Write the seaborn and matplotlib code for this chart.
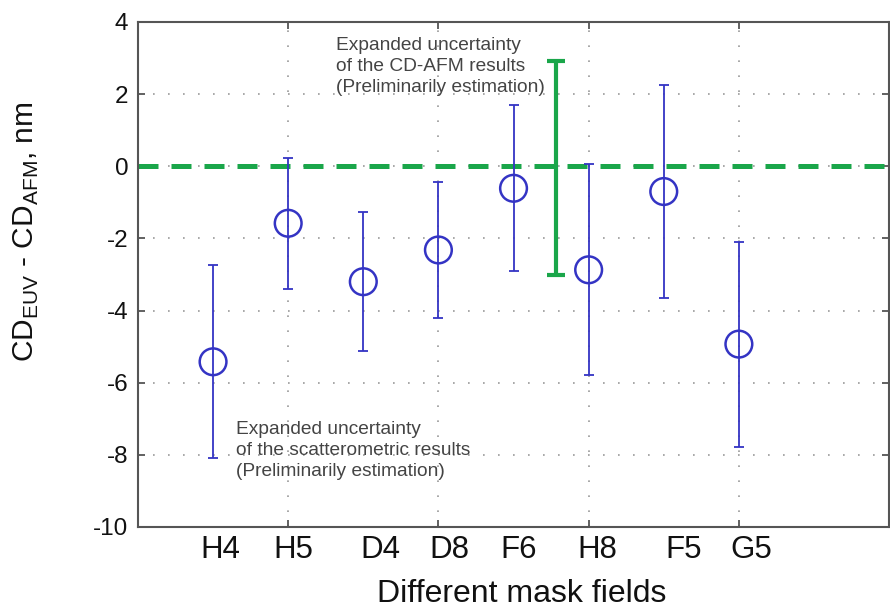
import numpy as np
import pandas as pd
import matplotlib
matplotlib.use("Agg")
import matplotlib.pyplot as plt
import seaborn as sns

# Mask fields and CD differences (CD_EUV - CD_AFM, nm)
fields = ["H4", "H5", "D4", "D8", "F6", "H8", "F5", "G5"]
field_pos = [1, 2, 3, 4, 5, 6, 7, 8]
label_pos = [1.09, 2.07, 3.23, 4.15, 5.07, 6.11, 7.26, 8.17]
cd_diff = [-5.42, -1.58, -3.20, -2.32, -0.61, -2.87, -0.70, -4.93]
scat_unc = [2.68, 1.81, 1.92, 1.89, 2.30, 2.93, 2.95, 2.84]

# Expanded uncertainty of the CD-AFM results
afm_pos = 5.56
afm_center = -0.05
afm_unc = 2.97

blue = "#3434c4"
green = "#1aa64a"

sns.set_style("ticks")
plt.rcParams["font.family"] = ["Liberation Sans", "DejaVu Sans"]
plt.rcParams["axes.unicode_minus"] = False

fig = plt.figure(figsize=(8.9, 6.11), dpi=100)
ax = fig.add_axes([0.155, 0.1375, 0.844, 0.8265])

df = pd.DataFrame({"pos": field_pos, "diff": cd_diff, "unc": scat_unc})

# Dotted grid behind everything
ax.set_axisbelow(True)
ax.grid(True, which="major", color="#9a9a9a", linestyle=(0, (1, 8)), linewidth=1.2)

# Zero reference line
ax.axhline(0, color=green, linestyle=(0, (4, 2.6)), linewidth=3.6, zorder=2)

# Scatterometric uncertainty bars
ax.errorbar(df["pos"], df["diff"], yerr=df["unc"], fmt="none", ecolor=blue,
            elinewidth=1.3, capsize=3.8, capthick=1.3, zorder=3)

# CD-AFM uncertainty bar
ax.errorbar([afm_pos], [afm_center], yerr=[afm_unc], fmt="none", ecolor=green,
            elinewidth=3.0, capsize=6.5, capthick=3.0, zorder=3)

# Open circle markers
sns.scatterplot(data=df, x="pos", y="diff", ax=ax, marker="o", s=370,
                facecolor="none", edgecolor=blue, linewidth=1.8, zorder=4,
                legend=False)

ax.set_xlim(0, 10)
ax.set_ylim(-10, 4)
ax.set_yticks(np.arange(-10, 5, 2))

ax.set_xticks([2, 4, 6, 8])
ax.set_xticklabels([""] * 4)
ax.set_xticks(label_pos, minor=True)
ax.set_xticklabels(fields, minor=True)

ax.tick_params(axis="both", which="major", direction="in", length=5, width=1.3,
               color="#555555", top=True, right=True)
ax.tick_params(axis="x", which="minor", length=0, pad=6, labelsize=22.5,
               labelcolor="#111111")
ax.tick_params(axis="y", which="major", pad=7, labelsize=17.5, labelcolor="#111111")

for s in ax.spines.values():
    s.set_visible(True)
    s.set_color("#555555")
    s.set_linewidth(1.5)

ax.set_xlabel("Different mask fields", fontsize=23, color="#111111")
ax.xaxis.set_label_coords(0.511, -0.103)
ax.set_ylabel(r"CD$_{\mathregular{EUV}}$ - CD$_{\mathregular{AFM}}$, nm",
              fontsize=21.5, color="#111111")
ax.yaxis.set_label_coords(-0.129, 0.584)

ax.text(2.63, 3.59,
        "Expanded uncertainty\nof the CD-AFM results\n(Preliminarily estimation)",
        fontsize=13.8, color="#444444", va="top", ha="left", linespacing=1.32)
ax.text(1.31, -7.06,
        "Expanded uncertainty\nof the scatterometric results\n(Preliminarily estimation)",
        fontsize=13.8, color="#444444", va="top", ha="left", linespacing=1.32)

fig.savefig("out.png", dpi=100)
